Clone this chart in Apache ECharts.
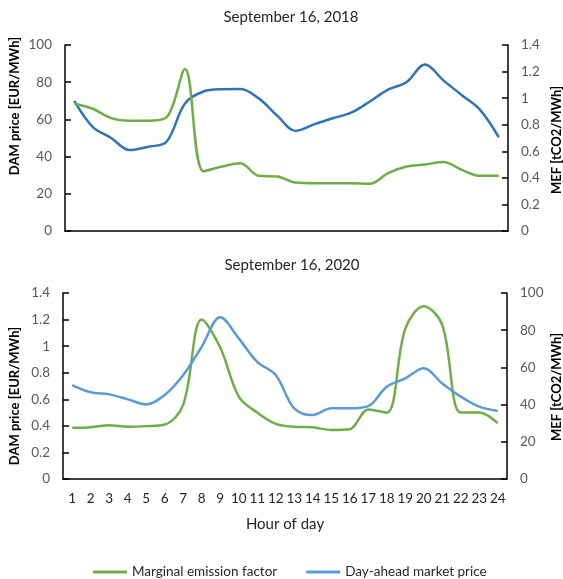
<!DOCTYPE html>
<html>
<head>
<meta charset="utf-8">
<script src="https://cdn.jsdelivr.net/npm/echarts@6/dist/echarts.min.js"></script>
<style>
html,body{margin:0;padding:0;background:#fff;}
#chart{width:563px;height:579px;}
</style>
</head>
<body>
<div id="chart"></div>
<script>
var hours = ['1','2','3','4','5','6','7','8','9','10','11','12','13','14','15','16','17','18','19','20','21','22','23','24'];
var dam2018 = [70, 56, 50, 43.5, 45.3, 48, 68.6, 75, 76.2, 76.3, 71.3, 62, 53.8, 57.3, 60.6, 63.6, 69.5, 76, 80, 89.5, 81, 73, 65, 50.4];
var mef2018 = [0.96, 0.92, 0.85, 0.83, 0.83, 0.855, 1.22, 0.45, 0.485, 0.51, 0.415, 0.41, 0.365, 0.36, 0.36, 0.36, 0.355, 0.435, 0.485, 0.5, 0.52, 0.46, 0.415, 0.415];
var mef2020 = [0.385, 0.39, 0.405, 0.393, 0.398, 0.41, 0.56, 1.2, 0.99, 0.62, 0.5, 0.415, 0.393, 0.389, 0.369, 0.374, 0.524, 0.499, 1.13, 1.3, 1.16, 0.5, 0.5, 0.42];
var dam2020 = [50.5, 46.6, 45.5, 42.8, 40.1, 45.2, 55.9, 71.1, 86.9, 75.6, 63, 55.9, 38, 34.4, 38, 38, 39.2, 49.6, 54.1, 59.5, 51.4, 44.3, 38.9, 36.6];
var titles = ['September 16, 2018', 'September 16, 2020'];
var leftName = 'DAM price [EUR/MWh]';
var rightName = 'MEF [tCO2/MWh]';
var xName = 'Hour of day';
var legendNames = ['Marginal emission factor', 'Day-ahead market price'];

var FONT = 'Lato';
var GREEN = '#70AD47', BLUE1 = '#2E75B6', BLUE2 = '#5B9BD5';
var labelStyle = {color:'#595959', fontFamily:FONT, fontSize:13.5};
function fmt(v){ return String(+v.toFixed(1)); }
function yAx(gi, min, max, interval, pos){
  return {
    type:'value', gridIndex:gi, min:min, max:max, interval:interval, position:pos,
    axisLine:{show:true, lineStyle:{color:'#000', width:1.5}},
    axisTick:{show:true, inside:true, length:6, lineStyle:{color:'#000', width:1.5}},
    axisLabel:Object.assign({margin:13, formatter:fmt}, labelStyle),
    splitLine:{show:false}
  };
}
var chart = echarts.init(document.getElementById('chart'), null, {renderer:'canvas'});
chart.setOption({
  animation:false,
  backgroundColor:'#fff',
  title:[
    {text:titles[0], left:286, top:5, textAlign:'center', textStyle:{fontFamily:FONT, fontSize:15, fontWeight:'normal', color:'#262626'}},
    {text:titles[1], left:287, top:253, textAlign:'center', textStyle:{fontFamily:FONT, fontSize:15, fontWeight:'normal', color:'#262626'}}
  ],
  legend:{
    left:88, top:560, itemGap:29, itemWidth:34, itemHeight:3, icon:'rect',
    textStyle:{fontFamily:FONT, fontSize:13.5, color:'#262626'},
    data:[
      {name:legendNames[0], itemStyle:{color:GREEN}},
      {name:legendNames[1], itemStyle:{color:BLUE2}}
    ]
  },
  grid:[
    {left:65, right:55, top:45, height:186},
    {left:63, right:56, top:293, height:186}
  ],
  xAxis:[
    {type:'category', gridIndex:0, data:hours, boundaryGap:true,
     axisLine:{lineStyle:{color:'#000', width:1.5}}, axisTick:{show:false}, axisLabel:{show:false}},
    {type:'category', gridIndex:1, data:hours, boundaryGap:true,
     name:xName, nameLocation:'middle', nameGap:38,
     nameTextStyle:{fontFamily:FONT, fontSize:15, color:'#262626'},
     axisLine:{lineStyle:{color:'#000', width:1.5}}, axisTick:{show:false},
     axisLabel:Object.assign({margin:13, interval:0}, labelStyle, {color:'#262626'})}
  ],
  yAxis:[
    yAx(0, 0, 100, 20, 'left'),
    yAx(0, 0, 1.4, 0.2, 'right'),
    yAx(1, 0, 1.4, 0.2, 'left'),
    yAx(1, 0, 100, 20, 'right')
  ],
  graphic:[
    {type:'text', x:15, y:106, rotation:Math.PI/2, style:{text:leftName, font:'bold 13px Lato', fill:'#000', align:'center', verticalAlign:'middle'}},
    {type:'text', x:557, y:140, rotation:Math.PI/2, style:{text:rightName, font:'bold 13px Lato', fill:'#000', align:'center', verticalAlign:'middle'}},
    {type:'text', x:15, y:396, rotation:Math.PI/2, style:{text:leftName, font:'bold 13px Lato', fill:'#000', align:'center', verticalAlign:'middle'}},
    {type:'text', x:557, y:387, rotation:Math.PI/2, style:{text:rightName, font:'bold 13px Lato', fill:'#000', align:'center', verticalAlign:'middle'}}
  ],
  series:[
    {name:legendNames[0], type:'line', xAxisIndex:1, yAxisIndex:2, data:mef2020, smooth:0.35, showSymbol:false, symbol:'none', lineStyle:{color:GREEN, width:2.5}, itemStyle:{color:GREEN}},
    {name:legendNames[1], type:'line', xAxisIndex:1, yAxisIndex:3, data:dam2020, smooth:0.35, showSymbol:false, symbol:'none', lineStyle:{color:BLUE2, width:2.5}, itemStyle:{color:BLUE2}},
    {name:legendNames[1], type:'line', xAxisIndex:0, yAxisIndex:0, data:dam2018, smooth:0.35, showSymbol:false, symbol:'none', lineStyle:{color:BLUE1, width:2.5}, itemStyle:{color:BLUE1}},
    {name:legendNames[0], type:'line', xAxisIndex:0, yAxisIndex:1, data:mef2018, smooth:0.35, showSymbol:false, symbol:'none', lineStyle:{color:GREEN, width:2.5}, itemStyle:{color:GREEN}}
  ]
});
</script>
</body>
</html>
